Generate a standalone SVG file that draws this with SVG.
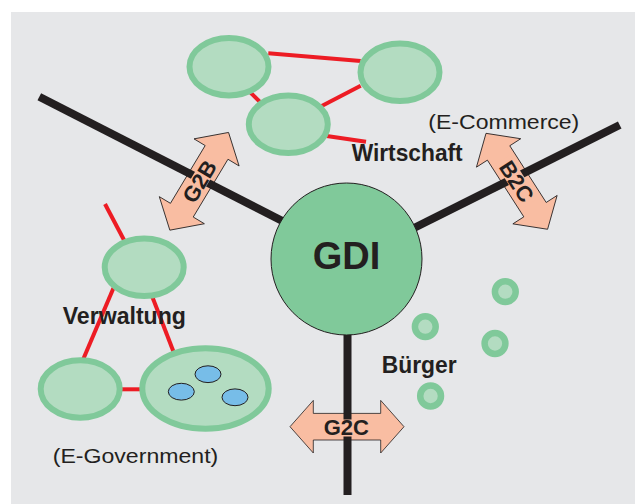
<svg xmlns="http://www.w3.org/2000/svg" width="635" height="504" viewBox="0 0 635 504">
<style>
.ell{fill:#b3dcc1;stroke:#80c99a;stroke-width:6}
.dot{fill:#b3dcc1;stroke:#80c99a;stroke-width:6.5}
.blue{fill:#77bde8;stroke:#231f20;stroke-width:1}
.red{stroke:#ed1c24;stroke-width:4;fill:none}
.blk{stroke:#231f20;stroke-width:8;fill:none}
.arr{fill:#f9bda2;stroke:#231f20;stroke-width:0.8;stroke-linejoin:miter}
.knock{fill:#f9bda2}
.b{font-family:"Liberation Sans",Arial,sans-serif;font-weight:bold;fill:#231f20}
.r{font-family:"Liberation Sans",Arial,sans-serif;fill:#231f20}
</style>
<defs>
<polygon id="darrow" points="-57,0 -33.7,-26.3 -33.7,-13.3 33.7,-13.3 33.7,-26.3 57,0 33.7,26.3 33.7,13.3 -33.7,13.3 -33.7,26.3"/>
</defs>
<rect x="0" y="0" width="635" height="504" fill="#ffffff"/>
<rect x="11" y="12" width="624" height="492" fill="#e6e7e9"/>

<g id="arrows">
<g id="arrow-g2b"><use href="#darrow" class="arr" transform="translate(199.2,181.3) rotate(-59)"/></g>
<g id="arrow-b2c"><use href="#darrow" class="arr" transform="translate(516.8,181.3) rotate(57.3)"/></g>
<g id="arrow-g2c"><use href="#darrow" class="arr" transform="translate(347,426.7)"/></g>
</g>

<g id="connectors">
<line class="blk" x1="39.3" y1="96.7" x2="300" y2="230"/>
<line class="blk" x1="619.7" y1="125" x2="400" y2="235"/>
<line class="blk" x1="347.5" y1="300" x2="347.5" y2="495"/>
<line class="red" x1="268.3" y1="53.3" x2="360.7" y2="61"/>
<line class="red" x1="248" y1="90" x2="262" y2="104"/>
<line class="red" x1="360.7" y1="85.7" x2="321.7" y2="106"/>
<line class="red" x1="326.7" y1="136" x2="366" y2="141.7"/>
<line class="red" x1="105" y1="204" x2="124" y2="240"/>
<line class="red" x1="113.5" y1="288" x2="83.3" y2="359"/>
<line class="red" x1="152" y1="296" x2="174" y2="353"/>
<line class="red" x1="120" y1="389.3" x2="142" y2="389.3" stroke-width="5"/>
</g>

<g id="wirtschaft">
<ellipse class="ell" cx="229" cy="66.7" rx="39.5" ry="28.7"/>
<ellipse class="ell" cx="400" cy="72.3" rx="39.5" ry="28.7"/>
<ellipse class="ell" cx="288.3" cy="124.3" rx="39.5" ry="28.7"/>
</g>

<g id="verwaltung">
<ellipse class="ell" cx="144.2" cy="267.3" rx="39.5" ry="28.7"/>
<ellipse class="ell" cx="80.2" cy="389" rx="39.5" ry="28.7"/>
<ellipse class="ell" cx="205.5" cy="388.5" rx="63.2" ry="40.2"/>
<ellipse class="blue" cx="208" cy="374.2" rx="13" ry="8.4"/>
<ellipse class="blue" cx="181.3" cy="391.7" rx="13" ry="8.4"/>
<ellipse class="blue" cx="235" cy="397.3" rx="13" ry="8.4"/>
</g>

<g id="buerger">
<circle class="dot" cx="505.3" cy="291.7" r="10.4"/>
<circle class="dot" cx="425.3" cy="326.7" r="10.4"/>
<circle class="dot" cx="495" cy="343.5" r="10.4"/>
<circle class="dot" cx="430.6" cy="396" r="10.4"/>
</g>

<g id="gdi">
<ellipse cx="346.5" cy="259" rx="75.5" ry="76" fill="#80c99a" stroke="#231f20" stroke-width="1"/>
<text class="b" x="346.5" y="269" font-size="38" text-anchor="middle">GDI</text>
</g>

<g id="labels">
<text class="b" x="351.7" y="161" font-size="23" textLength="111" lengthAdjust="spacingAndGlyphs">Wirtschaft</text>
<text class="r" x="428.3" y="128.5" font-size="21" textLength="151" lengthAdjust="spacingAndGlyphs">(E-Commerce)</text>
<text class="b" x="62.7" y="324" font-size="23" textLength="123.3" lengthAdjust="spacingAndGlyphs">Verwaltung</text>
<text class="r" x="52.7" y="463" font-size="21" textLength="165.6" lengthAdjust="spacingAndGlyphs">(E-Government)</text>
<text class="b" x="381.7" y="373.3" font-size="23" textLength="75" lengthAdjust="spacingAndGlyphs">Bürger</text>
<g id="label-g2c">
<rect class="knock" x="321" y="419.5" width="51" height="17"/>
<text class="b" x="346.3" y="435" font-size="22" text-anchor="middle">G2C</text>
</g>
<g id="label-g2b" transform="translate(199.2,181.3) rotate(-59)">
<rect class="knock" x="-26" y="-8.5" width="52" height="17"/>
<text class="b" font-size="22" text-anchor="middle" x="0" y="8">G2B</text>
</g>
<g id="label-b2c" transform="translate(516.8,181.3) rotate(57.3)">
<rect class="knock" x="-26" y="-8.5" width="52" height="17"/>
<text class="b" font-size="22" text-anchor="middle" x="0" y="8">B2C</text>
</g>
</g>
</svg>
